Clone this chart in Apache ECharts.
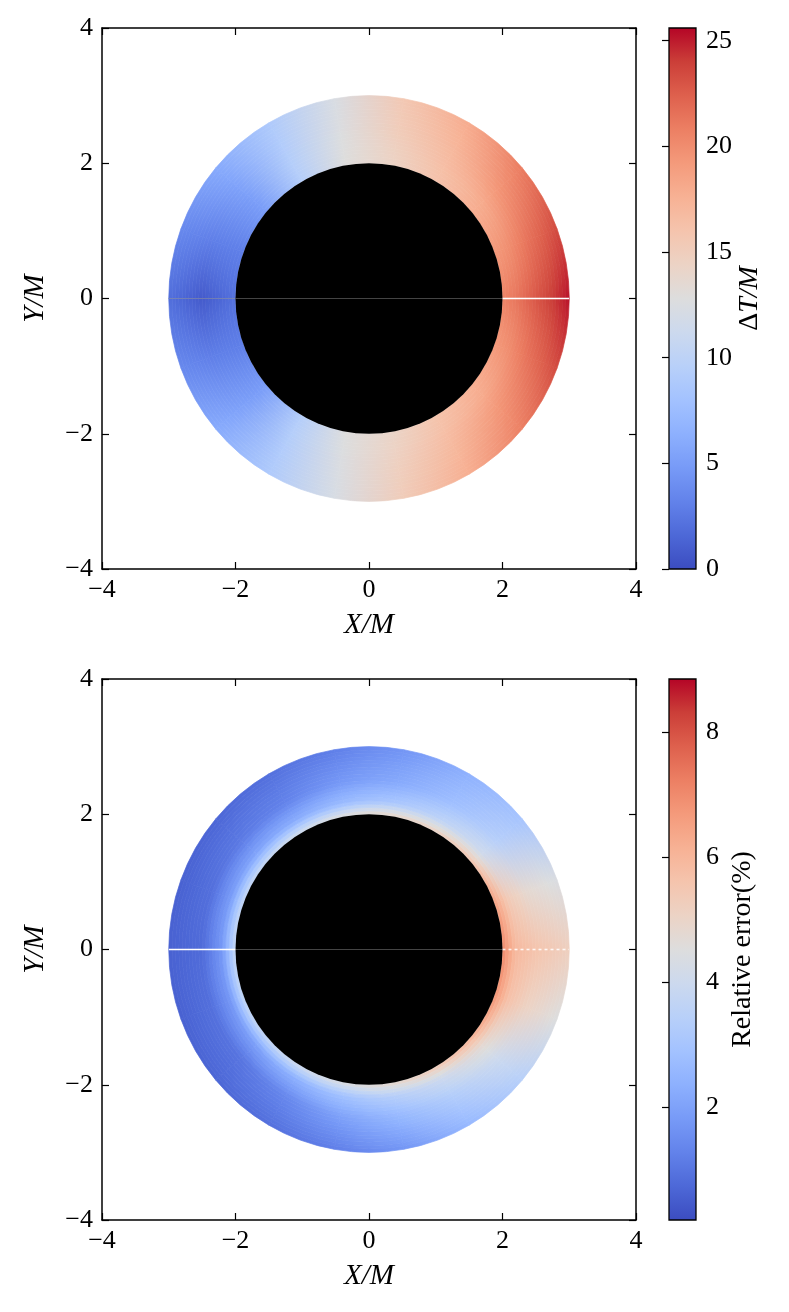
<!DOCTYPE html>
<html>
<head>
<meta charset="utf-8">
<title>ΔT/M and relative error</title>
<script src="https://cdn.jsdelivr.net/npm/echarts@6/dist/echarts.min.js"></script>
<style>
  html, body { margin: 0; padding: 0; background: #fff; }
</style>
</head>
<body>
<div id="main" style="width: 789px; height: 1312px;"></div>
<script type="text/javascript">
// spokes (deg) where the maps were read, and the radii of the read rings
var angles = [0, 20, 40, 60, 80, 100, 120, 140, 160, 180, 200, 220, 240, 260, 280, 300, 320, 340];
var ringRadii = [2.0, 2.2, 2.5, 3.0];

// top map: Delta T / M, one array per ring radius (inner -> outer)
var dtRing1 = [20.5, 19.2, 17.7, 16.1, 14.4, 12.9, 9.4, 5.0, 3.0, 2.2, 3.0, 5.0, 9.4, 12.8, 14.2, 16.0, 17.6, 19.2];
var dtRing2 = [21.2, 19.8, 18.0, 16.4, 14.6, 12.8, 9.4, 5.0, 3.0, 1.6, 3.0, 5.0, 9.4, 12.7, 14.4, 16.3, 18.0, 19.8];
var dtRing3 = [22.8, 21.3, 19.4, 17.0, 15.1, 12.6, 9.2, 5.3, 3.0, 0.8, 3.0, 5.3, 9.2, 12.5, 14.8, 16.9, 19.3, 21.3];
var dtRing4 = [25.2, 23.4, 21.0, 18.0, 15.6, 12.3, 8.9, 6.0, 3.6, 2.0, 3.6, 6.0, 8.9, 12.2, 15.2, 17.8, 20.8, 23.4];
var dtRange = [0, 25.6];
var dtTicks = [0, 5, 10, 15, 20, 25];

// bottom map: relative error (%)
var errRing1 = [7.0, 6.5, 5.6, 5.2, 5.0, 4.6, 4.2, 3.9, 3.8, 3.8, 3.8, 3.8, 4.1, 4.5, 4.9, 5.4, 6.1, 6.8];
var errRing2 = [5.9, 5.4, 4.1, 3.6, 3.1, 2.7, 2.3, 2.1, 1.9, 1.8, 1.8, 2.0, 2.4, 2.9, 3.4, 4.0, 4.8, 5.7];
var errRing3 = [5.6, 4.8, 3.4, 2.8, 2.2, 1.8, 1.3, 1.1, 0.9, 0.8, 0.9, 1.0, 1.4, 2.0, 2.6, 3.3, 4.0, 5.1];
var errRing4 = [5.2, 4.4, 3.0, 2.4, 1.7, 1.2, 0.9, 0.7, 0.6, 0.6, 0.6, 0.7, 0.9, 1.2, 1.7, 2.6, 3.4, 4.5];
var errRange = [0.19, 8.85];
var errTicks = [2, 4, 6, 8];

// horizontal cuts along y = 0
var diskSeam = [[-2, 0], [2, 0]];
var topCut = [[2, 0], [3, 0]];
var topFaint = [[-3, 0], [-2, 0]];
var botCutLeft = [[-3, 0], [-2, 0]];
var botCutRight = [[2, 0], [3, 0]];

// coolwarm colormap
var coolwarm = [[59,76,192],[77,104,215],[98,130,234],[119,154,247],[141,176,254],[163,194,255],
    [184,208,249],[204,217,238],[221,221,221],[236,211,197],[245,196,173],[247,177,148],
    [244,154,123],[236,127,99],[222,96,77],[203,62,56],[180,4,38]];

function cmap(v, range) {
    var n = coolwarm.length;
    var t = Math.max(0, Math.min(1, (v - range[0]) / (range[1] - range[0]))) * (n - 1);
    var i = Math.min(Math.floor(t), n - 2), f = t - i;
    var a = coolwarm[i], b = coolwarm[i + 1];
    return 'rgb(' + [0, 1, 2].map(function (k) { return Math.round(a[k] + (b[k] - a[k]) * f); }).join(',') + ')';
}

var font = 'Liberation Serif';
var DEG = Math.PI / 180;

function fmt(v) { return v < 0 ? '\u2212' + (-v) : String(v); }

// cells between two spokes and two rings: [a0, a1, r0, r1, v(a0,r0), v(a1,r0), v(a0,r1), v(a1,r1)]
function buildCells(rings) {
    var cells = [];
    for (var j = 0; j < rings.length - 1; j++) {
        angles.forEach(function (a, i) {
            var k = (i + 1) % angles.length;
            var a1 = i + 1 < angles.length ? angles[i + 1] : angles[0] + 360;
            cells.push([a, a1, ringRadii[j], ringRadii[j + 1],
                rings[j][i], rings[j][k], rings[j + 1][i], rings[j + 1][k]]);
        });
    }
    return cells;
}

function annulusSeries(idx, rings, range) {
    return {
        type: 'custom',
        xAxisIndex: idx, yAxisIndex: idx,
        z: 2, silent: true, clip: false,
        data: buildCells(rings),
        renderItem: function (params, api) {
            var c = api.coord([0, 0]);
            var ux = api.size([1, 0])[0], uy = api.size([0, 1])[1];
            var a0 = api.value(0) * DEG, a1 = api.value(1) * DEG;
            var r0 = api.value(2), r1 = api.value(3);
            var v00 = api.value(4), v10 = api.value(5), v01 = api.value(6), v11 = api.value(7);
            // shade the cell in thin bands so the colour runs smoothly in r and angle
            var nSub = Math.max(2, Math.round((r1 - r0) / 0.05));
            var children = [];
            for (var k = 0; k < nSub; k++) {
                var s = (k + 0.5) / nSub;
                var ra = (r0 + (r1 - r0) * k / nSub) * ux;
                var rb = (r0 + (r1 - r0) * (k + 1) / nSub) * ux;
                var rm = (ra + rb) / 2;
                var va = v00 + (v01 - v00) * s, vb = v10 + (v11 - v10) * s;
                var grad = new echarts.graphic.LinearGradient(
                    c[0] + rm * Math.cos(a0), c[1] - rm * Math.sin(a0),
                    c[0] + rm * Math.cos(a1), c[1] - rm * Math.sin(a1),
                    [{ offset: 0, color: cmap(va, range) }, { offset: 1, color: cmap(vb, range) }], true);
                children.push({
                    type: 'sector',
                    shape: { cx: c[0], cy: c[1], r0: ra, r: rb, startAngle: -a0, endAngle: -a1, clockwise: false },
                    style: { fill: grad, stroke: grad, lineWidth: 0.7 }
                });
            }
            return { type: 'group', originX: c[0], originY: c[1], scaleY: uy / ux, children: children };
        }
    };
}

function diskSeries(idx) {
    return {
        type: 'custom',
        xAxisIndex: idx, yAxisIndex: idx,
        z: 3, silent: true, clip: false,
        data: [[0, 0, ringRadii[0]]],
        renderItem: function (params, api) {
            var c = api.coord([api.value(0), api.value(1)]);
            var ux = api.size([1, 0])[0], uy = api.size([0, 1])[1];
            return {
                type: 'circle',
                originX: c[0], originY: c[1], scaleY: uy / ux,
                shape: { cx: c[0], cy: c[1], r: api.value(2) * ux },
                style: { fill: '#000' }
            };
        }
    };
}

function lineSeries(idx, data, color, width, dash) {
    return {
        type: 'line', xAxisIndex: idx, yAxisIndex: idx, z: 4,
        data: data, symbol: 'none', silent: true,
        lineStyle: { color: color, width: width, type: dash || 'solid' }
    };
}

function colorbarSeries(idx, range) {
    return {
        type: 'custom', xAxisIndex: idx, yAxisIndex: idx, z: 2, silent: true,
        data: [[0, range[0], 1, range[1]]],
        renderItem: function (params, api) {
            var p0 = api.coord([api.value(0), api.value(3)]);
            var p1 = api.coord([api.value(2), api.value(1)]);
            var stops = coolwarm.map(function (c, i) {
                return { offset: i / (coolwarm.length - 1), color: 'rgb(' + c.join(',') + ')' };
            });
            return {
                type: 'rect',
                shape: { x: p0[0], y: p0[1], width: p1[0] - p0[0], height: p1[1] - p0[1] },
                style: { fill: new echarts.graphic.LinearGradient(0, 1, 0, 0, stops), stroke: '#000', lineWidth: 1.3 }
            };
        }
    };
}

var frameLine = { show: true, onZero: false, lineStyle: { color: '#000', width: 1.5 } };
var tickIn = { show: true, inside: true, length: 7, lineStyle: { color: '#000', width: 1.2 } };
var labelStyle = { color: '#000', fontFamily: font, fontSize: 26 };

function mainX(gi, pos) {
    var ax = {
        type: 'value', gridIndex: gi, position: pos, min: -4, max: 4, interval: 2,
        axisLine: frameLine, axisTick: tickIn, splitLine: { show: false },
        axisLabel: { show: false }
    };
    if (pos === 'bottom') {
        ax.axisLabel = Object.assign({ show: true, margin: 8, formatter: fmt, showMinLabel: true, showMaxLabel: true }, labelStyle);
        ax.name = 'X/M';
        ax.nameLocation = 'middle';
        ax.nameGap = 42;
        ax.nameTextStyle = { color: '#000', fontFamily: font, fontStyle: 'italic', fontSize: 29 };
    }
    return ax;
}

function mainY(gi, pos) {
    var ax = {
        type: 'value', gridIndex: gi, position: pos, min: -4, max: 4, interval: 2,
        axisLine: frameLine, axisTick: tickIn, splitLine: { show: false },
        axisLabel: { show: false }
    };
    if (pos === 'left') {
        ax.axisLabel = Object.assign({ show: true, margin: 9, formatter: fmt, showMinLabel: true, showMaxLabel: true }, labelStyle);
        ax.name = 'Y/M';
        ax.nameLocation = 'middle';
        ax.nameRotate = 90;
        ax.nameGap = 52;
        ax.nameTextStyle = { color: '#000', fontFamily: font, fontStyle: 'italic', fontSize: 29 };
    }
    return ax;
}

function cbX(gi) {
    return { type: 'value', gridIndex: gi, min: 0, max: 1, show: false };
}

function cbY(gi, range, ticks, name, gap, rich) {
    return {
        type: 'value', gridIndex: gi, position: 'right', min: range[0], max: range[1],
        axisLine: { show: false }, splitLine: { show: false },
        axisTick: Object.assign({ customValues: ticks }, tickIn),
        axisLabel: Object.assign({ show: true, margin: 10, customValues: ticks }, labelStyle),
        name: name, nameLocation: 'middle', nameRotate: 90, nameGap: gap,
        nameTextStyle: { color: '#000', fontFamily: font, fontSize: 28, rich: rich }
    };
}

var myChart = echarts.init(document.getElementById('main'));

var option = {
    animation: false,
    backgroundColor: '#fff',
    grid: [
        { left: 102, top: 28, width: 534, height: 541 },
        { left: 102, top: 679, width: 534, height: 541 },
        { left: 669, top: 28, width: 27, height: 541 },
        { left: 669, top: 679, width: 27, height: 541 }
    ],
    xAxis: [
        mainX(0, 'bottom'), mainX(0, 'top'),
        mainX(1, 'bottom'), mainX(1, 'top'),
        cbX(2), cbX(3)
    ],
    yAxis: [
        mainY(0, 'left'), mainY(0, 'right'),
        mainY(1, 'left'), mainY(1, 'right'),
        cbY(2, dtRange, dtTicks, '{d|\u0394}{i|T/M}', 40, {
            d: { fontFamily: font, fontSize: 28, color: '#000' },
            i: { fontFamily: font, fontSize: 28, fontStyle: 'italic', color: '#000' }
        }),
        cbY(3, errRange, errTicks, 'Relative error(%)', 33, {})
    ],
    series: [
        annulusSeries(0, [dtRing1, dtRing2, dtRing3, dtRing4], dtRange),
        diskSeries(0),
        lineSeries(0, diskSeam, '#444', 1),
        lineSeries(0, topFaint, 'rgba(150,150,150,0.5)', 1),
        lineSeries(0, topCut, '#fff', 1.6),
        annulusSeries(2, [errRing1, errRing2, errRing3, errRing4], errRange),
        diskSeries(2),
        lineSeries(2, diskSeam, '#444', 1),
        lineSeries(2, botCutLeft, '#fff', 1.6),
        lineSeries(2, botCutRight, 'rgba(255,255,255,0.85)', 1.6, [3, 3]),
        colorbarSeries(4, dtRange),
        colorbarSeries(5, errRange)
    ]
};

myChart.setOption(option);
</script>
</body>
</html>
